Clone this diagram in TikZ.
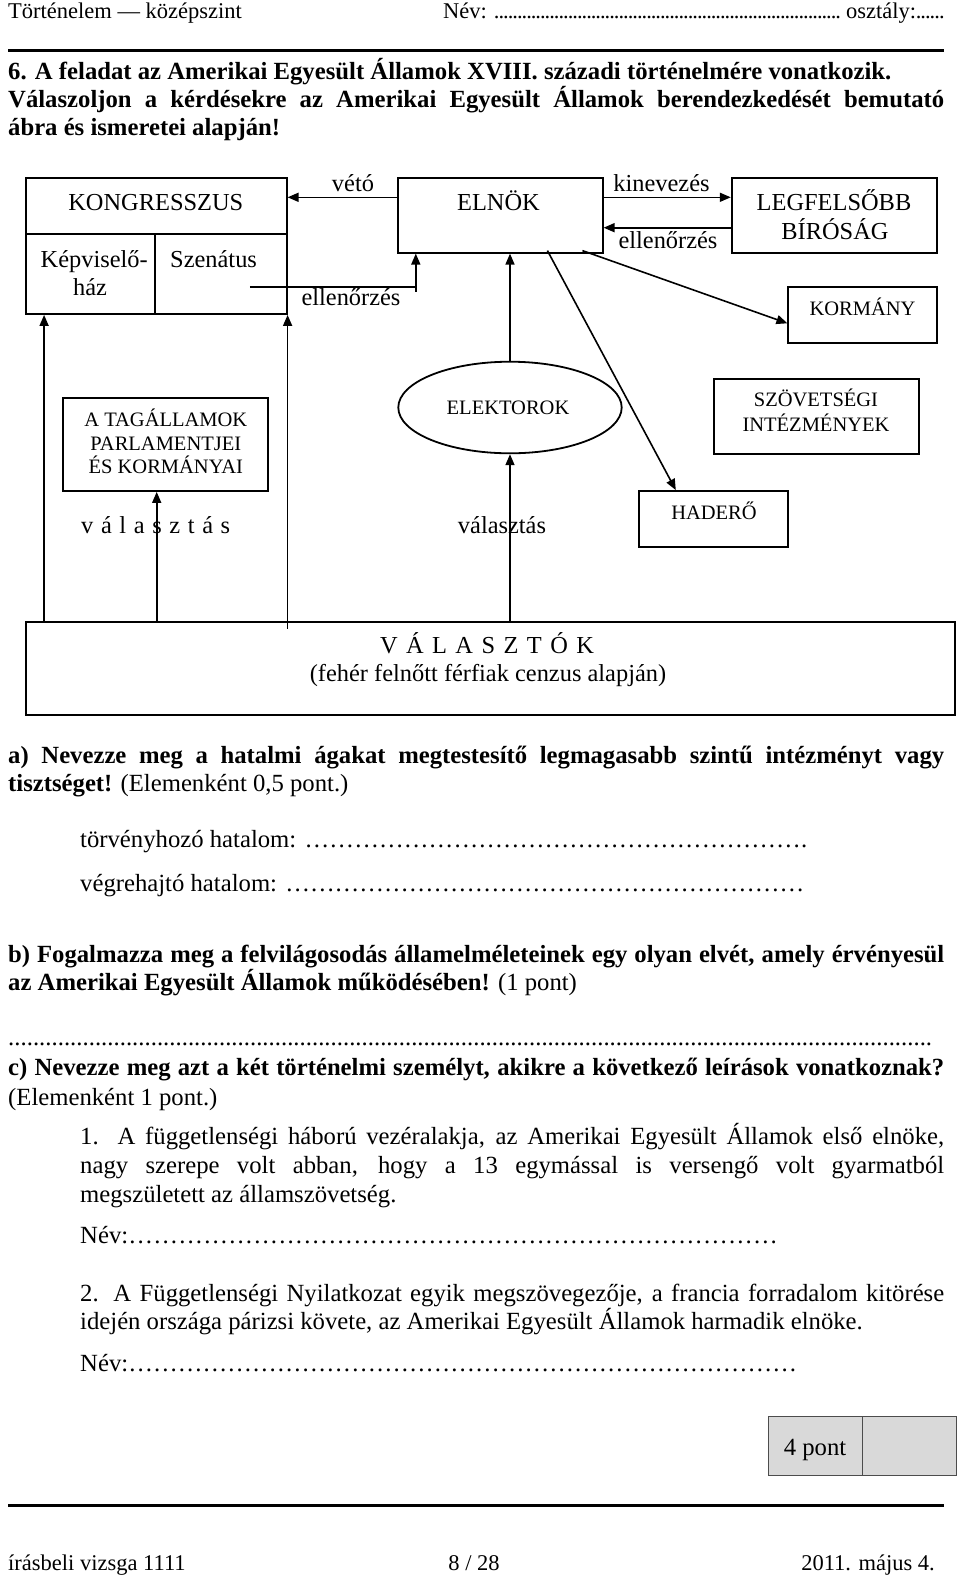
\documentclass[tikz,border=0pt]{standalone}
\usepackage{fontspec}
\setmainfont{Liberation Serif}
\usetikzlibrary{arrows.meta,shapes.geometric,calc}
\newcommand\hdrf{\fontsize{22.5pt}{27pt}\selectfont}
\newcommand\bodyf{\fontsize{24.7pt}{29pt}\selectfont}
\newcommand\dgL{\fontsize{24.4pt}{29pt}\selectfont}
\newcommand\dgS{\fontsize{20.5pt}{24pt}\selectfont}
\begin{document}
\begin{tikzpicture}[x=1pt,y=-1pt,
  box/.style={draw, line width=1.8pt, inner sep=0pt},
  arr/.style={line width=1.6pt, -{Triangle[length=11pt,width=9pt]}},
  ln/.style={line width=1.6pt},
  rule/.style={line width=3pt},
  tc/.style={inner sep=0pt, anchor=base},
  tl/.style={inner sep=0pt, anchor=base west},
  tr/.style={inner sep=0pt, anchor=base east},
  ptbox/.style={draw=black!70, fill=black!15, line width=1pt, inner sep=0pt, minimum height=59pt}]
\useasboundingbox (0,0) rectangle (960,1575);
\fill[white] (0,0) rectangle (960,1575);

% ---------- header ----------
\node[tl,font=\hdrf] (hL) at (8,18) {Történelem — középszint};
\node[tl,font=\hdrf] (hR) at (443,18) {\hbox to 501pt{Név: \xleaders\hbox to 4.6pt{\hss.\hss}\hfill\ osztály:\xleaders\hbox to 4.6pt{\hss.\hss}\hskip 28pt}};
\draw[rule] (8,50) -- (944,50);

\node[tl,font=\bodyf\bfseries] (ti1) at (8,79) {6. A feladat az Amerikai Egyesült Államok XVIII. századi történelmére vonatkozik.};
\node[tl,font=\bodyf\bfseries] (ti2) at (8,107) {\hbox to 936pt{Válaszoljon a kérdésekre az Amerikai Egyesült Államok berendezkedését bemutató}};
\node[tl,font=\bodyf\bfseries] (ti3) at (8,135) {ábra és ismeretei alapján!};

% ---------- diagram boxes ----------
\node[box,minimum width=260.7pt,minimum height=135.7pt] (kong) at (156.35,246.15) {};
\draw[box] ($(kong.north west)+(0,56.4)$) -- ($(kong.north east)+(0,56.4)$);
\draw[box] ($(kong.south west)+(130,0)$) -- ($(kong.north west)+(130,56.4)$);
\node[box,minimum width=204.7pt,minimum height=74.4pt] (elnok) at (500.35,215.5) {};
\node[box,minimum width=205.6pt,minimum height=74.4pt] (legf) at (834.5,215.5) {};
\node[box,minimum width=149pt,minimum height=56pt] (korm) at (862.8,314.7) {};
\node[box,minimum width=205pt,minimum height=92.7pt] (tag) at (165.8,444.65) {};
\node[box,ellipse,minimum width=223.4pt,minimum height=91.6pt] (elek) at (510,407.5) {};
\node[box,minimum width=204.7pt,minimum height=74.7pt] (szov) at (816.35,416.65) {};
\node[box,minimum width=149pt,minimum height=56.3pt] (had) at (713.8,519.15) {};
\node[box,minimum width=929.3pt,minimum height=93.3pt] (valv) at (490.35,668.35) {};

% ---------- diagram texts ----------
\node[tc,font=\dgL] (tkong) at (155.8,210) {KONGRESSZUS};
\node[tc,font=\dgL] (tkep1) at (94.2,267) {Képviselő-};
\node[tc,font=\dgL] (tkep2) at (90,295) {ház};
\node[tl,font=\dgL] (tszen) at (170,267) {Szenátus};
\node[tc,font=\dgL] (telnok) at (498.5,210) {ELNÖK};
\node[tc,font=\dgL] (tlegf1) at (834,210) {LEGFELSŐBB};
\node[tc,font=\dgL] (tlegf2) at (835,239) {BÍRÓSÁG};
\node[tc,font=\dgS] (tkorm) at (862.5,315) {KORMÁNY};
\node[tc,font=\dgS] (ttag1) at (165.8,426) {A TAGÁLLAMOK};
\node[tc,font=\dgS] (ttag2) at (165.8,450) {PARLAMENTJEI};
\node[tc,font=\dgS] (ttag3) at (165.8,473.3) {ÉS KORMÁNYAI};
\node[tc,font=\dgS] (telek) at (508,414) {ELEKTOROK};
\node[tc,font=\dgS] (tszov1) at (816,406.7) {SZÖVETSÉGI};
\node[tc,font=\dgS] (tszov2) at (816,431.7) {INTÉZMÉNYEK};
\node[tc,font=\dgS] (thad) at (714,519.3) {HADERŐ};
\node[tc,font=\dgL] (tval1) at (487,653) {\hbox to 214pt{V Á L A S Z T Ó K}};
\node[tc,font=\dgL] (tval2) at (488,681) {(fehér felnőtt férfiak cenzus alapján)};

% ---------- connector labels ----------
\node[tc,font=\dgL] (lveto) at (353,191.7) {vétó};
\node[tc,font=\dgL] (lkin) at (661.5,191.7) {kinevezés};
\node[tc,font=\dgL] (lell2) at (668,248) {ellenőrzés};
\node[tc,font=\dgL] (lell1) at (351,305) {ellenőrzés};
\node[tl,font=\dgL] (lval1) at (81,533.3) {\hbox to 149pt{v á l a s z t á s}};
\node[tc,font=\dgL] (lval2) at (502,533) {választás};

% ---------- connectors ----------
\coordinate (v1) at ($(elnok.west)+(0,-18.2)$);
\draw[arr] (v1) -- (v1 -| kong.east);
\coordinate (k1) at ($(elnok.east)+(0,-18.2)$);
\draw[arr] (k1) -- (k1 -| legf.west);
\coordinate (e1) at ($(legf.west)+(0,12.2)$);
\draw[arr] (e1) -- (e1 -| elnok.east);
\coordinate (s1) at ($(kong.south east)+(-37.7,-28)$);
\coordinate (s2) at ($(elnok.south west)+(18.7,0)$);
\draw[arr] (s1) -- (s1 -| s2) -- (s2);
\draw[ln] (s1 -| s2) -- ++(0,5);
\coordinate (ek) at ($(elnok.south west)+(185.3,-3)$);
\draw[arr] (ek) -- ($(korm.west)+(0,8.6)$);
\coordinate (eh) at ($(elnok.south west)+(150.3,-3)$);
\draw[arr] (eh) -- ($(had.north west)+(37.4,0)$);
\draw[arr] (elek.north) -- (elek.north |- elnok.south);
\draw[arr] (elek.south |- valv.north) -- (elek.south);
\coordinate (c45) at ($(kong.south west)+(19,0)$);
\draw[arr] (c45 |- valv.north) -- (c45);
\coordinate (c286) at (kong.south east |- valv.north);
\draw[arr] ($(c286)+(0,8)$) -- (kong.south east);
\coordinate (ctag) at ($(tag.south)+(-9.1,0)$);
\draw[arr] (ctag |- valv.north) -- (ctag);

% ---------- questions ----------
\node[tl,font=\bodyf] (a1) at (8,763) {\hbox to 936pt{\bfseries a) Nevezze meg a hatalmi ágakat megtestesítő legmagasabb szintű intézményt vagy}};
\node[tl,font=\bodyf] (a2) at (8,791) {\textbf{tisztséget!} (Elemenként 0,5 pont.)};
\node[tl,font=\bodyf] (a3) at (80,847) {\hbox to 727pt{törvényhozó hatalom: \xleaders\hbox{…}\hfill.}};
\node[tl,font=\bodyf] (a4) at (80,891) {\hbox to 724pt{végrehajtó hatalom: \xleaders\hbox{…}\hfill}};
\node[tl,font=\bodyf] (b1) at (8,962) {\hbox to 936pt{\bfseries b) Fogalmazza meg a felvilágosodás államelméleteinek egy olyan elvét, amely érvényesül}};
\node[tl,font=\bodyf] (b2) at (8,990) {\textbf{az Amerikai Egyesült Államok működésében!} (1 pont)};
\node[tl,font=\bodyf] (bd) at (8,1045) {\hbox to 924pt{\xleaders\hbox{.}\hfill}};
\node[tl,font=\bodyf] (c1) at (8,1075) {\hbox to 936pt{\bfseries c) Nevezze meg azt a két történelmi személyt, akikre a következő leírások vonatkoznak?}};
\node[tl,font=\bodyf] (c2) at (8,1105) {(Elemenként 1 pont.)};
\node[tl,font=\bodyf] (c3) at (80,1144) {\hbox to 864pt{1. A függetlenségi háború vezéralakja, az Amerikai Egyesült Államok első elnöke,}};
\node[tl,font=\bodyf] (c4) at (80,1173) {\hbox to 864pt{nagy szerepe volt abban, hogy a 13 egymással is versengő volt gyarmatból}};
\node[tl,font=\bodyf] (c5) at (80,1202) {megszületett az államszövetség.};
\node[tl,font=\bodyf] (c6) at (80,1243) {\hbox to 698pt{Név:\xleaders\hbox{…}\hfill}};
\node[tl,font=\bodyf] (c7) at (80,1301) {\hbox to 864pt{2. A Függetlenségi Nyilatkozat egyik megszövegezője, a francia forradalom kitörése}};
\node[tl,font=\bodyf] (c8) at (80,1329) {idején országa párizsi követe, az Amerikai Egyesült Államok harmadik elnöke.};
\node[tl,font=\bodyf] (c9) at (80,1371) {\hbox to 717pt{Név:\xleaders\hbox{…}\hfill}};

% ---------- points box ----------
\node[ptbox,minimum width=94pt] (pbox1) at (815.3,1445.5) {};
\node[ptbox,minimum width=94.4pt] (pbox2) at (909.5,1445.5) {};
\node[tc,font=\bodyf] (ptxt) at (815,1455) {4 pont};

% ---------- footer ----------
\draw[rule] (8,1505) -- (944,1505);
\node[tl,font=\hdrf] (f1) at (8,1570) {írásbeli vizsga 1111};
\node[tc,font=\hdrf] (f2) at (474,1570) {8 / 28};
\node[tr,font=\hdrf] (f3) at (935,1570) {2011. május 4.};
\end{tikzpicture}
\end{document}
